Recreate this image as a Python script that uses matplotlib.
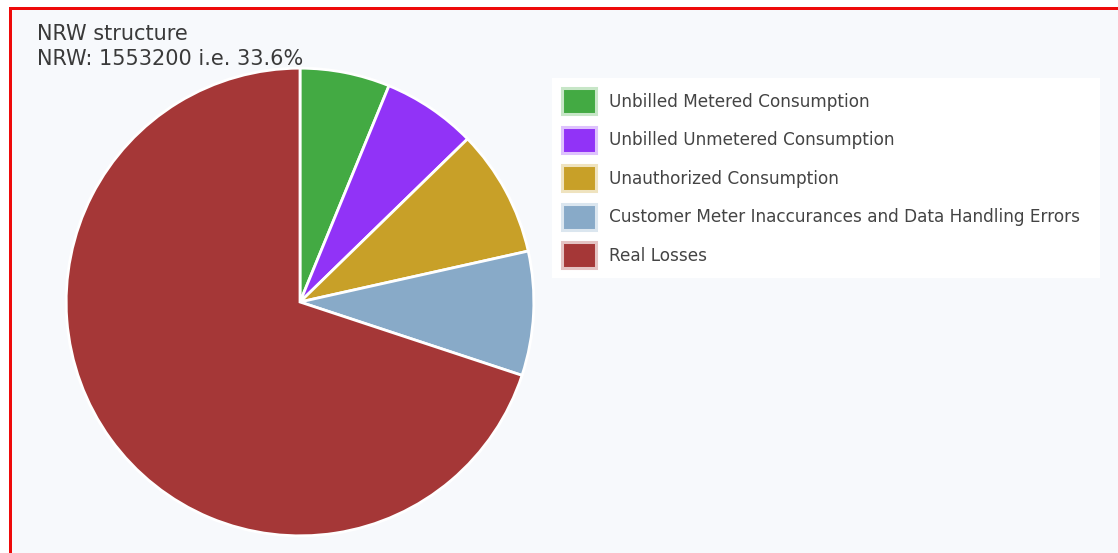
import matplotlib
matplotlib.use("Agg")
import matplotlib.pyplot as plt
from matplotlib.patches import Rectangle, Patch
from matplotlib.colors import to_rgb

# NRW components (m3)
labels = ["Unbilled Metered Consumption",
          "Unbilled Unmetered Consumption",
          "Unauthorized Consumption",
          "Customer Meter Inaccurances and Data Handling Errors",
          "Real Losses"]
volumes = [96500, 101000, 136500, 133200, 1086000]
colors = ["#43aa43", "#9133f7", "#c8a028", "#88aac8", "#a53737"]

nrw_total = 1553200
nrw_share = 33.6

W, H = 1118, 553
fig = plt.figure(figsize=(W / 100, H / 100), dpi=100, facecolor="white")

# panel background and red frame
fig.patches.append(Rectangle((10 / W, 0), 1 - 10 / W, 1 - 9 / H, transform=fig.transFigure,
                             facecolor="#f7f9fc", edgecolor="none", zorder=-2))
fig.patches.append(Rectangle((9 / W, 1 - 10 / H), 1 - 9 / W, 3 / H, transform=fig.transFigure,
                             facecolor="#ee0a0a", edgecolor="none", zorder=5))
fig.patches.append(Rectangle((9 / W, 0), 3 / W, 1 - 7 / H, transform=fig.transFigure,
                             facecolor="#ee0a0a", edgecolor="none", zorder=5))

# pie: centre (300, 302) px, radius 235 px
cx, cy, r = 300, 302, 235
ax = fig.add_axes([(cx - r) / W, (H - cy - r) / H, 2 * r / W, 2 * r / H])
ax.pie(volumes, colors=colors, startangle=90, counterclock=False, radius=1,
       wedgeprops=dict(edgecolor="white", linewidth=2))
ax.set_xlim(-1.005, 1.005)
ax.set_ylim(-1.005, 1.005)
ax.axis("off")

fig.text(37 / W, 1 - 40 / H, "NRW structure", fontsize=15, color="#3a3a3a",
         va="baseline", ha="left")
fig.text(37 / W, 1 - 65 / H, f"NRW: {nrw_total} i.e. {nrw_share}%", fontsize=15,
         color="#3a3a3a", va="baseline", ha="left")

# legend swatches with a pale frame in the same hue
def tint(c, a=0.3):
    rgb = to_rgb(c)
    return tuple(1 - a * (1 - v) for v in rgb)

handles = [Patch(facecolor=c, edgecolor=tint(c), linewidth=2.2) for c in colors]
leg = fig.legend(handles, labels, loc="upper left",
                 bbox_to_anchor=(552 / W, (H - 280) / H, 548 / W, 202 / H), mode="expand",
                 fontsize=12.2, frameon=True, facecolor="white", edgecolor="none",
                 framealpha=1, fancybox=False, handlelength=2.0, handleheight=1.98,
                 handletextpad=0.78, labelspacing=0.74, borderpad=0.6, borderaxespad=0)
for t in leg.get_texts():
    t.set_color("#444444")

fig.savefig("out.png", dpi=100, facecolor="white")
